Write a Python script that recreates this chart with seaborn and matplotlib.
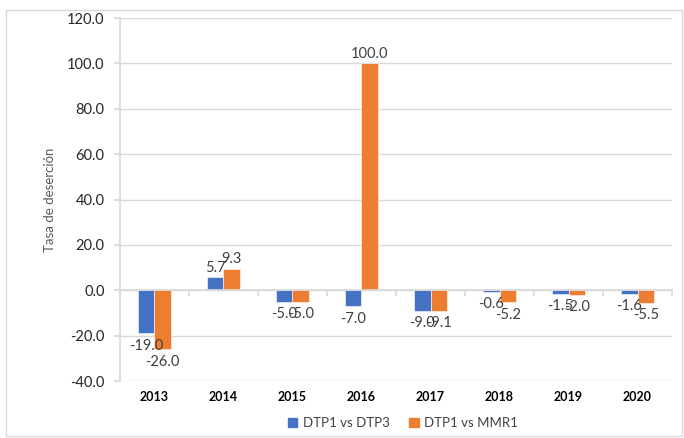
import matplotlib
matplotlib.use("Agg")
import matplotlib.pyplot as plt
import matplotlib.transforms as mtransforms
from matplotlib.patches import Rectangle
import seaborn as sns
import pandas as pd

years = ["2013", "2014", "2015", "2016", "2017", "2018", "2019", "2020"]
dtp1_vs_dtp3 = [-19.0, 5.7, -5.0, -7.0, -9.0, -0.6, -1.5, -1.6]
dtp1_vs_mmr1 = [-26.0, 9.3, -5.0, 100.0, -9.1, -5.2, -2.0, -5.5]
series_names = ["DTP1 vs DTP3", "DTP1 vs MMR1"]
colors = ["#4472C4", "#ED7D31"]

df = pd.DataFrame({
    "year": years * 2,
    "value": dtp1_vs_dtp3 + dtp1_vs_mmr1,
    "serie": [series_names[0]] * len(years) + [series_names[1]] * len(years),
})

sns.set_theme(style="white")
plt.rcParams["font.family"] = ["Lato", "DejaVu Sans"]

fig = plt.figure(figsize=(6.84, 4.38), dpi=100)
ax = fig.add_axes([0.1754, 0.1301, 0.8071, 0.8288])

sns.barplot(data=df, x="year", y="value", hue="serie", palette=colors,
            saturation=1, width=0.48, gap=0, ax=ax, legend=False,
            edgecolor="white", linewidth=0.4)

# data labels, Excel style
text_col = "#404040"
for container in ax.containers:
    for bar in container:
        h = bar.get_height()
        xc = bar.get_x() + bar.get_width() / 2
        if h >= 0:
            ax.annotate(f"{h:.1f}", (xc, h), xytext=(0, 2), textcoords="offset points",
                        ha="center", va="bottom", fontsize=10.5, color=text_col)
        else:
            ax.annotate(f"{h:.1f}", (xc, h), xytext=(0, -4), textcoords="offset points",
                        ha="center", va="top", fontsize=10.5, color=text_col)

grid_col = "#D9D9D9"
ax.set_ylim(-40, 120)
ax.set_yticks(range(-40, 121, 20))
ax.set_yticklabels([f"{v:.1f}" for v in range(-40, 121, 20)], fontsize=10.5, color="#262626")
ax.yaxis.grid(True, color=grid_col, linewidth=1)
ax.set_axisbelow(True)
ax.tick_params(axis="y", length=4, color=grid_col, left=True, pad=7)

ax.set_xlim(-0.5, len(years) - 0.5)
ax.spines["bottom"].set_position(("data", 0))
ax.spines["bottom"].set_color(grid_col)
ax.spines["left"].set_color(grid_col)
ax.spines["top"].set_visible(False)
ax.spines["right"].set_visible(False)
ax.set_xticks([i - 0.5 for i in range(len(years) + 1)])
ax.set_xticklabels([])
ax.tick_params(axis="x", length=4, color=grid_col, bottom=True)

trans = mtransforms.blended_transform_factory(ax.transData, ax.transAxes)
for i, y in enumerate(years):
    ax.text(i, -0.045, y, transform=trans, ha="center", va="center",
            fontsize=9, fontweight="bold", color="#000000")

ax.set_xlabel("")
ax.set_ylabel("Tasa de deserción", fontsize=9.5, color="#595959", labelpad=8)

handles = [Rectangle((0, 0), 1, 1, color=c) for c in colors]
fig.legend(handles, series_names, loc="center", bbox_to_anchor=(0.589, 0.034),
           ncol=2, frameon=False, fontsize=9.5, handlelength=0.7, handleheight=0.7,
           columnspacing=1.5, handletextpad=0.4, labelcolor="#404040")

fig.patches.append(Rectangle((0.009, 0.005), 0.988, 0.972, transform=fig.transFigure,
                             fill=False, edgecolor=grid_col, linewidth=1))

fig.savefig("out.png", dpi=100)
